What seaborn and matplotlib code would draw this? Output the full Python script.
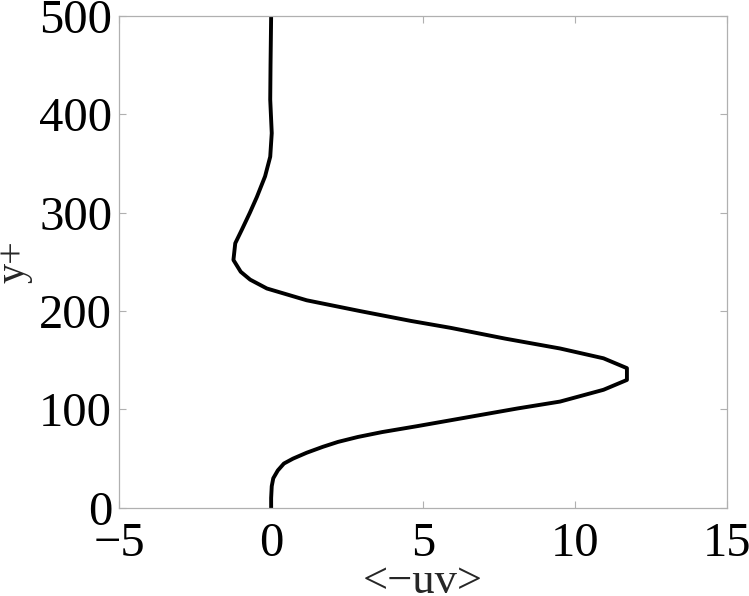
import numpy as np
import pandas as pd
import matplotlib
matplotlib.use("Agg")
import matplotlib.pyplot as plt
import seaborn as sns

# wall-normal position y+ and Reynolds shear stress <-uv>
y_plus = [0, 10, 22, 30, 38, 45, 50, 56, 62, 67, 72, 77, 83, 89, 95, 101, 108,
          120, 130, 142, 152, 162, 172, 183, 190, 200, 211, 223, 232, 240, 252,
          269, 283, 300, 316, 337, 357, 381, 415, 450, 500]
minus_uv = [0, 0, 0.02, 0.07, 0.22, 0.42, 0.72, 1.17, 1.7, 2.2, 2.85, 3.65, 4.8,
            5.9, 7.0, 8.1, 9.5, 10.93, 11.7, 11.7, 10.93, 9.5, 7.7, 5.9, 4.6,
            2.93, 1.17, -0.14, -0.69, -1.0, -1.24, -1.18, -0.96, -0.7, -0.47,
            -0.2, -0.03, 0.02, -0.03, -0.02, 0]

x_ticks = [-5, 0, 5, 10, 15]
y_ticks = [0, 100, 200, 300, 400, 500]

df = pd.DataFrame({"y+": y_plus, "<-uv>": minus_uv})

sns.set_style("ticks")
plt.rcParams['font.family'] = ['Liberation Serif', 'DejaVu Serif']

fig = plt.figure(figsize=(7.49, 5.96), dpi=100)
ax = fig.add_axes([0.159, 0.148, 0.812, 0.825])

sns.lineplot(data=df, x="<-uv>", y="y+", sort=False, estimator=None,
             color="black", linewidth=2.8, ax=ax)

ax.set_xlim(-5, 15)
ax.set_ylim(0, 500)
ax.set_xticks(x_ticks)
ax.set_yticks(y_ticks)

for side in ["top", "bottom", "left", "right"]:
    ax.spines[side].set_visible(True)
    ax.spines[side].set_color("#b0b0b0")
    ax.spines[side].set_linewidth(0.9)

ax.tick_params(direction="in", length=5, width=0.8, color="#b0b0b0",
               top=True, right=True, labelsize=35, labelcolor="black")
ax.tick_params(axis="x", pad=10)
ax.tick_params(axis="y", pad=5)

ax.set_xlabel("<\u2212uv>", fontsize=32, labelpad=-3)
ax.set_ylabel("y+", fontsize=29, labelpad=5)

fig.savefig("out.png", dpi=100)
